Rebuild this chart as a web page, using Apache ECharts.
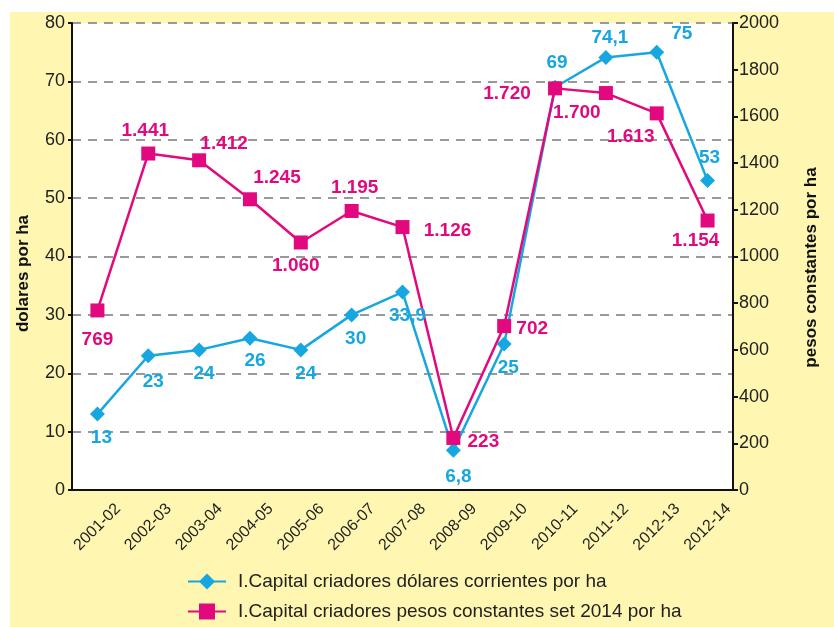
<!DOCTYPE html>
<html>
<head>
<meta charset="utf-8">
<script src="https://cdn.jsdelivr.net/npm/echarts@6/dist/echarts.min.js"></script>
<style>
  html, body { margin: 0; padding: 0; background: #fff; }
  #chart { width: 834px; height: 627px; }
</style>
</head>
<body>
<div id="chart"></div>
<script>
const categories = ['2001-02', '2002-03', '2003-04', '2004-05', '2005-06', '2006-07', '2007-08',
  '2008-09', '2009-10', '2010-11', '2011-12', '2012-13', '2012-14']
const dolares = [13, 23, 24, 26, 24, 30, 33.9, 6.8, 25, 69, 74.1, 75, 53]
const pesos = [769, 1441, 1412, 1245, 1060, 1195, 1126, 223, 702, 1720, 1700, 1613, 1154]
const seriesNames = [
  'I.Capital criadores dólares corrientes por ha',
  'I.Capital criadores pesos constantes set 2014 por ha'
]

// where each value label sits relative to its point
const dolaresOffsets = [[4, 24], [5, 26], [5, 24], [5, 23], [5, 24], [4, 24], [5, 24],
  [5, 26], [4, 24], [2, -24], [4, -20], [25, -18], [2, -23]]
const pesosOffsets = [[0, 29], [-3, -23], [25, -17], [27, -22], [-5, 23], [3, -23], [45, 4],
  [30, 4], [28, 3], [-48, 5], [-29, 20], [-26, 23], [-12, 20]]

const blue = '#17a7e0'
const pink = '#e2097e'
const sans = '"Liberation Sans", Arial, sans-serif'

const fmtDolares = v => String(v).replace('.', ',')
const fmtPesos = v => v >= 1000 ? Math.floor(v / 1000) + '.' + String(v % 1000).padStart(3, '0') : String(v)

const chart = echarts.init(document.getElementById('chart'))

const option = {
  animation: false,
  graphic: [
    {
      type: 'rect',
      z: -10,
      shape: { x: 10, y: 12, width: 824, height: 615 },
      style: { fill: '#fff6b1' }
    }
  ],
  grid: {
    left: 72,
    right: 101,
    top: 23,
    bottom: 137,
    show: true,
    backgroundColor: '#fff',
    borderWidth: 0
  },
  legend: {
    orient: 'vertical',
    left: 187,
    top: 572,
    padding: 0,
    height: 60,
    itemWidth: 38,
    itemHeight: 20,
    itemGap: 11,
    textStyle: { fontFamily: sans, fontSize: 19, color: '#222', padding: [0, 0, 0, 7] },
    data: seriesNames
  },
  xAxis: {
    type: 'category',
    data: categories,
    axisLine: { lineStyle: { color: '#111', width: 2 } },
    axisTick: { length: 5, lineStyle: { color: '#111', width: 2 } },
    axisLabel: {
      rotate: 45,
      interval: 0,
      align: 'center',
      verticalAlign: 'middle',
      margin: 37,
      fontFamily: sans,
      fontSize: 16,
      color: '#222'
    }
  },
  yAxis: [
    {
      type: 'value',
      min: 0,
      max: 80,
      interval: 10,
      name: 'dolares por ha',
      nameLocation: 'middle',
      nameGap: 40,
      nameTextStyle: { fontFamily: sans, fontWeight: 'bold', fontSize: 17, color: '#111', padding: [0, 34, 0, 0] },
      axisLine: { show: true, lineStyle: { color: '#111', width: 2 } },
      axisTick: { show: true, length: 4, lineStyle: { color: '#111', width: 2 } },
      axisLabel: { fontFamily: sans, fontSize: 18, color: '#222', margin: 7 },
      splitLine: { show: true, lineStyle: { color: '#999', width: 2, type: [9, 7] } }
    },
    {
      type: 'value',
      min: 0,
      max: 2000,
      interval: 200,
      name: 'pesos constantes por ha',
      nameLocation: 'middle',
      nameGap: 70,
      nameTextStyle: { fontFamily: sans, fontWeight: 'bold', fontSize: 17, color: '#111', padding: [0, 22, 0, 0] },
      axisLine: { show: true, lineStyle: { color: '#111', width: 2 } },
      axisTick: { show: true, length: 5, lineStyle: { color: '#111', width: 2 } },
      axisLabel: { fontFamily: sans, fontSize: 18, color: '#222', margin: 6, formatter: v => String(v) },
      splitLine: { show: false }
    }
  ],
  series: [
    {
      name: seriesNames[0],
      type: 'line',
      yAxisIndex: 0,
      data: dolares.map((v, i) => ({
        value: v,
        label: { offset: dolaresOffsets[i] }
      })),
      symbol: 'diamond',
      symbolSize: 15,
      itemStyle: { color: blue },
      lineStyle: { color: blue, width: 2.5 },
      label: {
        show: true,
        position: 'inside',
        align: 'center',
        verticalAlign: 'middle',
        fontFamily: sans,
        fontWeight: 'bold',
        fontSize: 19,
        color: blue,
        formatter: p => fmtDolares(p.value)
      }
    },
    {
      name: seriesNames[1],
      type: 'line',
      yAxisIndex: 1,
      data: pesos.map((v, i) => ({
        value: v,
        label: { offset: pesosOffsets[i] }
      })),
      symbol: 'rect',
      symbolSize: 14,
      itemStyle: { color: pink },
      lineStyle: { color: pink, width: 2.5 },
      label: {
        show: true,
        position: 'inside',
        align: 'center',
        verticalAlign: 'middle',
        fontFamily: sans,
        fontWeight: 'bold',
        fontSize: 19,
        color: pink,
        formatter: p => fmtPesos(p.value)
      }
    }
  ]
}

chart.setOption(option)
</script>
</body>
</html>
